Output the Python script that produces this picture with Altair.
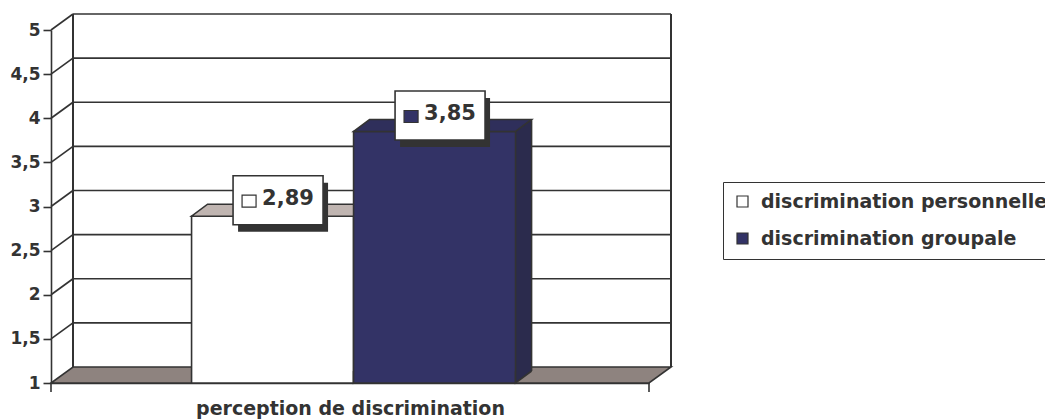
import altair as alt
import pandas as pd

# ---- data ----
series = ["discrimination personnelle", "discrimination groupale"]
values = [2.89, 3.85]
tick_values = [1, 1.5, 2, 2.5, 3, 3.5, 4, 4.5, 5]
x_title = "perception de discrimination"

# ---- styling ----
front_colors = ["#FFFFFF", "#333366"]
top_colors = ["#C0B5B1", "#2F2F5B"]
side_colors = ["#BDB2AE", "#2B2B4D"]
floor_color = "#8E837F"
INK = "#333333"
FONT = "DejaVu Sans"
LW = 1.6

W, H = 598, 353            # front plane of the plot
BAR_W = 162                # bar width in px
HALF = BAR_W / 2
DX, DY = 22, -16           # depth of the walls
BX, BY = 16, -12           # depth of the bars

pad_outer = (W / BAR_W - 2) / 2

df = pd.DataFrame({"series": series, "value": values})
grid = pd.DataFrame({"v": tick_values[1:]})

x_enc = alt.X(
    "series:N",
    sort=series,
    scale=alt.Scale(domain=series, paddingInner=0, paddingOuter=pad_outer, align=0.513),
    axis=alt.Axis(
        title=x_title, labels=False, ticks=False, domain=True,
        domainColor=INK, domainWidth=LW,
        titleFont=FONT, titleFontSize=19, titleFontWeight="bold", titleColor=INK,
        titlePadding=16,
    ),
)
y_scale = alt.Scale(domain=[1, 5], nice=False, zero=False)
y_axis = alt.Axis(
    title=None, values=tick_values, grid=False,
    labelExpr="replace(format(datum.value, '~g'), '.', ',')",
    labelFont=FONT, labelFontSize=17, labelFontWeight="bold", labelColor=INK,
    labelPadding=3, tickSize=8, tickColor=INK, tickWidth=LW,
    domainColor=INK, domainWidth=LW,
)
y_enc = alt.Y("value:Q", scale=y_scale, axis=y_axis)

# ---- walls and floor ----
left_wall = alt.Chart(grid).mark_rule(stroke=INK, strokeWidth=LW, y2Offset=DY).encode(
    x=alt.value(0), x2=alt.value(DX),
    y=alt.Y("v:Q", scale=y_scale, axis=y_axis), y2="v:Q",
)
back_grid = alt.Chart(grid).mark_rule(stroke=INK, strokeWidth=LW, yOffset=DY).encode(
    x=alt.value(DX), x2=alt.value(W + DX),
    y=alt.Y("v:Q", scale=y_scale, axis=y_axis),
)
back_left = alt.Chart(grid).mark_rule(stroke=INK, strokeWidth=LW, yOffset=DY, y2Offset=DY).encode(
    x=alt.value(DX), y=alt.datum(5), y2=alt.datum(1),
)
back_right = alt.Chart(grid).mark_rule(stroke=INK, strokeWidth=LW, yOffset=DY, y2Offset=DY).encode(
    x=alt.value(W + DX), y=alt.datum(5), y2=alt.datum(1),
)
floor = alt.Chart(grid).transform_filter("datum.v == 5").mark_point(
    shape=f"M0,0 L{W},0 L{W + DX},{DY} L{DX},{DY} Z", size=4, filled=True, opacity=1,
    fill=floor_color, stroke=INK, strokeWidth=LW, strokeJoin="miter",
).encode(x=alt.value(0), y=alt.datum(1))

end_ticks = [
    alt.Chart(grid).transform_filter("datum.v == 5").mark_rule(stroke=INK, strokeWidth=LW).encode(
        x=alt.value(xp), y=alt.value(H), y2=alt.value(H + 9))
    for xp in (0, W)
]

legend = alt.Legend(
    title=None, orient="none", legendX=672, legendY=152, direction="vertical",
    symbolType="square", symbolSize=121, symbolStrokeColor=INK, symbolStrokeWidth=1.2,
    labelFont=FONT, labelFontSize=19, labelFontWeight="bold", labelColor=INK,
    labelOffset=9, rowPadding=17, padding=10, strokeColor=INK, fillColor="white",
    labelLimit=0,
)
color_enc = alt.Color("series:N", sort=series,
                      scale=alt.Scale(domain=series, range=front_colors), legend=legend)

top_path = f"M{-HALF},0 L{HALF},0 L{HALF + BX},{BY} L{-HALF + BX},{BY} Z"
tri_path = f"M{HALF + BX},{BY} L{HALF},0 L{HALF},{BY}"
box_path = "M-45,-24.5 H45 V24.5 H-45 Z"
key_path = "M-7,-6 H7 V6 H-7 Z"
LX, LY = 5.5, -16  # label box centre relative to the bar top


def bar_layers(i):
    base = alt.Chart(df).transform_filter(alt.datum.series == series[i]).transform_calculate(
        label="replace(format(datum.value, '.2f'), '.', ',')"
    )
    side = base.mark_bar(fill=side_colors[i], xOffset=BX, x2Offset=BX,
                         yOffset=BY, y2Offset=BY).encode(x=x_enc, y=y_enc, y2=alt.datum(1))
    front = base.mark_bar(stroke=INK, strokeWidth=LW, opacity=1).encode(
        x=x_enc, y=y_enc, y2=alt.datum(1), color=color_enc)
    top = base.mark_point(shape=top_path, size=4, filled=True, opacity=1,
                          fill=top_colors[i], stroke=INK, strokeWidth=LW,
                          strokeJoin="miter").encode(x=x_enc, y=y_enc)
    edge = base.mark_rule(stroke=INK, strokeWidth=LW, xOffset=HALF + BX,
                          yOffset=BY, y2Offset=BY).encode(x=x_enc, y=y_enc, y2=alt.datum(1))
    tri = base.mark_point(shape=tri_path, size=4, filled=True, opacity=1,
                          fill=side_colors[i], stroke=INK, strokeWidth=LW).encode(
        x=x_enc, y=alt.datum(1))
    shadow = base.mark_point(shape=box_path, size=4, filled=True, opacity=1, fill=INK,
                             xOffset=LX + 5, yOffset=LY + 7).encode(x=x_enc, y=y_enc)
    box = base.mark_point(shape=box_path, size=4, filled=True, opacity=1, fill="white",
                          stroke=INK, strokeWidth=LW, xOffset=LX, yOffset=LY).encode(x=x_enc, y=y_enc)
    key = base.mark_point(shape=key_path, size=4, filled=True, opacity=1, fill=front_colors[i],
                          stroke=INK, strokeWidth=1.2, xOffset=LX - 29, yOffset=LY + 1).encode(
        x=x_enc, y=y_enc)
    txt = base.mark_text(align="left", baseline="middle", font=FONT, fontSize=21,
                         fontWeight="bold", fill=INK, xOffset=LX - 16, yOffset=LY - 1).encode(
        x=x_enc, y=y_enc, text="label:N")
    return [side, front, top, edge, tri, shadow, box, key, txt]


layers = [left_wall, back_grid, back_left, back_right, floor, *end_ticks]
for i in range(len(series)):
    layers += bar_layers(i)

chart = alt.layer(*layers).properties(
    width=W, height=H,
    autosize=alt.AutoSizeParams(type="none"),
    padding={"left": 51, "top": 30, "right": 1045 - 51 - W, "bottom": 419 - 30 - H},
    background="white",
).configure_view(stroke=None)

chart.save("out.html", embed_options={"renderer": "svg", "actions": False})
